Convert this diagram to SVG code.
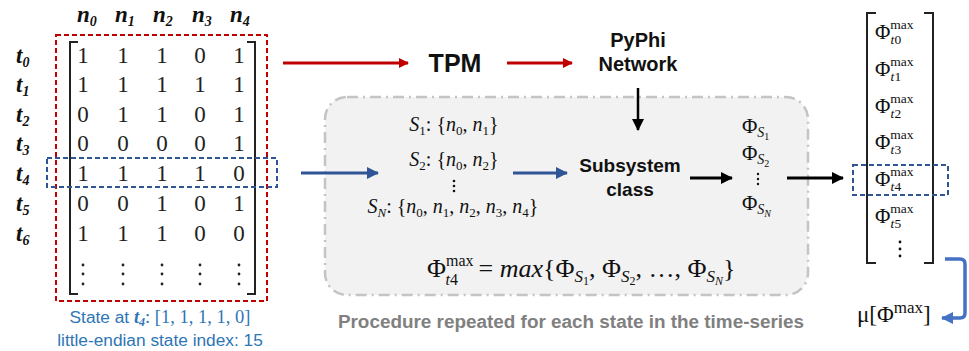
<svg xmlns="http://www.w3.org/2000/svg" width="969" height="351" viewBox="0 0 969 351">
<style>
.num{font-family:"Liberation Serif","DejaVu Serif",serif;font-size:23px;fill:#222;text-anchor:middle}
.lab{font-family:"Liberation Serif","DejaVu Serif",serif;font-size:23px;font-weight:bold;font-style:italic;fill:#111}
.sub{font-size:14px}
.math{font-family:"Liberation Serif","DejaVu Serif",serif;fill:#111}
.it{font-style:italic}
.sans{font-family:"Liberation Sans",Arial,sans-serif;font-weight:bold;fill:#111;text-anchor:middle}
.blue{font-family:"Liberation Sans",Arial,sans-serif;font-size:17.3px;fill:#2e75b6;text-anchor:middle}
.brk{fill:none;stroke:#222;stroke-width:2}
.dot{fill:#222}
.sm{font-size:13.5px}
</style>
<defs>
<marker id="ar" markerWidth="10" markerHeight="10" refX="9" refY="5" orient="auto" markerUnits="userSpaceOnUse"><path d="M0,0 L10,5 L0,10 Z" fill="#c00000"/></marker>
<marker id="ab" markerWidth="12" markerHeight="12" refX="11" refY="6" orient="auto" markerUnits="userSpaceOnUse"><path d="M0,0 L12,6 L0,12 Z" fill="#2f5597"/></marker>
<marker id="ak" markerWidth="12" markerHeight="12" refX="11" refY="6" orient="auto" markerUnits="userSpaceOnUse"><path d="M0,0 L12,6 L0,12 Z" fill="#000"/></marker>
<marker id="al" markerWidth="12" markerHeight="12" refX="11" refY="6" orient="auto" markerUnits="userSpaceOnUse"><path d="M0,0 L12,6 L0,12 Z" fill="#4472c4"/></marker>
</defs>
<rect width="969" height="351" fill="#fff"/>

<g id="procedure-box">
<rect x="325" y="97" width="483" height="198" rx="22" fill="#f2f2f2" stroke="#c4c4c4" stroke-width="2.5" stroke-dasharray="11 5 2 5"/>
<text x="571" y="328" class="sans" style="font-size:18.9px;fill:#808080">Procedure repeated for each state in the time-series</text>
</g>

<g id="matrix">
<g class="lab">
<text x="77" y="22">n<tspan class="sub" dy="4">0</tspan></text>
<text x="115" y="22">n<tspan class="sub" dy="4">1</tspan></text>
<text x="153" y="22">n<tspan class="sub" dy="4">2</tspan></text>
<text x="192" y="22">n<tspan class="sub" dy="4">3</tspan></text>
<text x="230" y="22">n<tspan class="sub" dy="4">4</tspan></text>
<text x="16" y="63">t<tspan class="sub" dy="4">0</tspan></text>
<text x="16" y="92">t<tspan class="sub" dy="4">1</tspan></text>
<text x="16" y="122">t<tspan class="sub" dy="4">2</tspan></text>
<text x="16" y="151">t<tspan class="sub" dy="4">3</tspan></text>
<text x="16" y="181">t<tspan class="sub" dy="4">4</tspan></text>
<text x="16" y="211">t<tspan class="sub" dy="4">5</tspan></text>
<text x="16" y="241">t<tspan class="sub" dy="4">6</tspan></text>
</g>
<path class="brk" d="M78,42 H70 V294 H78 M247,42 H255 V294 H247"/>
<g class="num">
<text x="83" y="63">1</text><text x="123" y="63">1</text><text x="162" y="63">1</text><text x="200" y="63">0</text><text x="239" y="63">1</text>
<text x="83" y="92">1</text><text x="123" y="92">1</text><text x="162" y="92">1</text><text x="200" y="92">1</text><text x="239" y="92">1</text>
<text x="83" y="122">0</text><text x="123" y="122">1</text><text x="162" y="122">1</text><text x="200" y="122">0</text><text x="239" y="122">1</text>
<text x="83" y="151">0</text><text x="123" y="151">0</text><text x="162" y="151">0</text><text x="200" y="151">0</text><text x="239" y="151">1</text>
<text x="83" y="181">1</text><text x="123" y="181">1</text><text x="162" y="181">1</text><text x="200" y="181">1</text><text x="239" y="181">0</text>
<text x="83" y="211">0</text><text x="123" y="211">0</text><text x="162" y="211">1</text><text x="200" y="211">0</text><text x="239" y="211">1</text>
<text x="83" y="241">1</text><text x="123" y="241">1</text><text x="162" y="241">1</text><text x="200" y="241">0</text><text x="239" y="241">0</text>
</g>
<g class="dot">
<circle cx="83" cy="265" r="1.4"/><circle cx="83" cy="274" r="1.4"/><circle cx="83" cy="284" r="1.4"/>
<circle cx="123" cy="265" r="1.4"/><circle cx="123" cy="274" r="1.4"/><circle cx="123" cy="284" r="1.4"/>
<circle cx="162" cy="265" r="1.4"/><circle cx="162" cy="274" r="1.4"/><circle cx="162" cy="284" r="1.4"/>
<circle cx="200" cy="265" r="1.4"/><circle cx="200" cy="274" r="1.4"/><circle cx="200" cy="284" r="1.4"/>
<circle cx="239" cy="265" r="1.4"/><circle cx="239" cy="274" r="1.4"/><circle cx="239" cy="284" r="1.4"/>
</g>
<rect x="56" y="35" width="211" height="266" fill="none" stroke="#c00000" stroke-width="2" stroke-dasharray="5 3"/>
<rect x="47" y="158" width="230" height="29" fill="none" stroke="#2f5597" stroke-width="2" stroke-dasharray="5 3"/>
</g>

<g id="state-caption">
<text x="160" y="323" class="blue">State at <tspan style="font-family:'Liberation Serif',serif;font-weight:bold;font-style:italic;font-size:18.5px">t<tspan style="font-size:12px" dy="3">4</tspan></tspan><tspan dy="-3" style="font-family:'Liberation Serif',serif;font-size:18.5px">: [1, 1, 1, 1, 0]</tspan></text>
<text x="160" y="346" class="blue">little-endian state index: 15</text>
</g>

<g id="tpm">
<text x="455" y="72" class="sans" style="font-size:25px">TPM</text>
</g>

<g id="pyphi-network">
<text x="638" y="47" class="sans" style="font-size:20px">PyPhi</text>
<text x="638" y="71" class="sans" style="font-size:20px">Network</text>
</g>

<g id="subsets" class="math" style="font-size:20px;text-anchor:middle">
<text x="454" y="131"><tspan class="it">S</tspan><tspan style="font-size:13px" dy="4">1</tspan><tspan dy="-4">: {</tspan><tspan class="it">n</tspan><tspan style="font-size:13px" dy="4">0</tspan><tspan dy="-4">, </tspan><tspan class="it">n</tspan><tspan style="font-size:13px" dy="4">1</tspan><tspan dy="-4">}</tspan></text>
<text x="454" y="166"><tspan class="it">S</tspan><tspan style="font-size:13px" dy="4">2</tspan><tspan dy="-4">: {</tspan><tspan class="it">n</tspan><tspan style="font-size:13px" dy="4">0</tspan><tspan dy="-4">, </tspan><tspan class="it">n</tspan><tspan style="font-size:13px" dy="4">2</tspan><tspan dy="-4">}</tspan></text>
<circle cx="454" cy="181" r="1.3" fill="#111"/><circle cx="454" cy="186" r="1.3" fill="#111"/><circle cx="454" cy="191" r="1.3" fill="#111"/>
<text x="453" y="213"><tspan class="it">S</tspan><tspan class="it" style="font-size:13px" dy="4">N</tspan><tspan dy="-4">: {</tspan><tspan class="it">n</tspan><tspan style="font-size:13px" dy="4">0</tspan><tspan dy="-4">, </tspan><tspan class="it">n</tspan><tspan style="font-size:13px" dy="4">1</tspan><tspan dy="-4">, </tspan><tspan class="it">n</tspan><tspan style="font-size:13px" dy="4">2</tspan><tspan dy="-4">, </tspan><tspan class="it">n</tspan><tspan style="font-size:13px" dy="4">3</tspan><tspan dy="-4">, </tspan><tspan class="it">n</tspan><tspan style="font-size:13px" dy="4">4</tspan><tspan dy="-4">}</tspan></text>
</g>

<g id="subsystem-class">
<text x="630" y="172" class="sans" style="font-size:19px">Subsystem</text>
<text x="630" y="196" class="sans" style="font-size:19px">class</text>
</g>

<g id="phi-values" class="math" style="font-size:21px">
<text x="742" y="133">Φ<tspan class="it" style="font-size:14px" dy="4">S</tspan><tspan style="font-size:10px" dy="3">1</tspan></text>
<text x="742" y="160">Φ<tspan class="it" style="font-size:14px" dy="4">S</tspan><tspan style="font-size:10px" dy="3">2</tspan></text>
<circle cx="758" cy="174" r="1.2" fill="#111"/><circle cx="758" cy="179" r="1.2" fill="#111"/><circle cx="758" cy="184" r="1.2" fill="#111"/>
<text x="742" y="210">Φ<tspan class="it" style="font-size:14px" dy="4">S</tspan><tspan class="it" style="font-size:10px" dy="3">N</tspan></text>
</g>

<g id="max-formula" class="math" style="font-size:26px">
<text x="427" y="277">Φ<tspan style="font-size:16px" dy="-11">max</tspan><tspan class="it" style="font-size:16px" dx="-28" dy="19">t</tspan><tspan style="font-size:16px">4</tspan><tspan dx="14" dy="-8"> = </tspan><tspan class="it">max</tspan>{Φ<tspan class="it" style="font-size:17px" dy="5">S</tspan><tspan style="font-size:12px" dy="3">1</tspan><tspan dy="-8">, Φ</tspan><tspan class="it" style="font-size:17px" dy="5">S</tspan><tspan style="font-size:12px" dy="3">2</tspan><tspan dy="-8">, …, Φ</tspan><tspan class="it" style="font-size:17px" dy="5">S</tspan><tspan class="it" style="font-size:12px" dy="3">N</tspan><tspan dy="-8">}</tspan></text>
</g>

<g id="phi-max-vector" class="math" style="font-size:21px">
<path class="brk" d="M876,13 H867 V263 H876 M924,13 H933 V263 H924"/>
<text x="875" y="39">Φ<tspan class="sm" dy="-10">max</tspan><tspan class="it sm" dx="-23" dy="15">t</tspan><tspan class="sm">0</tspan></text>
<text x="875" y="76">Φ<tspan class="sm" dy="-10">max</tspan><tspan class="it sm" dx="-23" dy="15">t</tspan><tspan class="sm">1</tspan></text>
<text x="875" y="113">Φ<tspan class="sm" dy="-10">max</tspan><tspan class="it sm" dx="-23" dy="15">t</tspan><tspan class="sm">2</tspan></text>
<text x="875" y="149">Φ<tspan class="sm" dy="-10">max</tspan><tspan class="it sm" dx="-23" dy="15">t</tspan><tspan class="sm">3</tspan></text>
<text x="875" y="186">Φ<tspan class="sm" dy="-10">max</tspan><tspan class="it sm" dx="-23" dy="15">t</tspan><tspan class="sm">4</tspan></text>
<text x="875" y="223">Φ<tspan class="sm" dy="-10">max</tspan><tspan class="it sm" dx="-23" dy="15">t</tspan><tspan class="sm">5</tspan></text>
<circle cx="900" cy="242" r="1.4" fill="#111"/><circle cx="900" cy="249" r="1.4" fill="#111"/><circle cx="900" cy="256" r="1.4" fill="#111"/>
<rect x="853" y="165" width="95" height="30" fill="none" stroke="#2f5597" stroke-width="2" stroke-dasharray="5 3"/>
</g>

<g id="mean-phi">
<text x="857" y="322" class="math" style="font-size:23px">μ[Φ<tspan style="font-size:17px" dy="-9">max</tspan><tspan dy="9">]</tspan></text>
</g>

<g id="connectors" fill="none" stroke-width="3">
<line x1="283" y1="63" x2="408" y2="63" stroke="#c00000" marker-end="url(#ar)"/>
<line x1="507" y1="63" x2="572" y2="63" stroke="#c00000" marker-end="url(#ar)"/>
<line x1="638" y1="88" x2="638" y2="130" stroke="#000" stroke-width="2.5" marker-end="url(#ak)"/>
<line x1="301" y1="173" x2="378" y2="173" stroke="#2f5597" marker-end="url(#ab)"/>
<line x1="513" y1="173" x2="567" y2="173" stroke="#2f5597" marker-end="url(#ab)"/>
<line x1="690" y1="178" x2="732" y2="178" stroke="#000" marker-end="url(#ak)"/>
<line x1="787" y1="178" x2="843" y2="178" stroke="#000" marker-end="url(#ak)"/>
<path d="M945,259 H960 Q965,259 965,264 V313 Q965,318 960,318 H942" stroke="#4472c4" stroke-width="3.5" marker-end="url(#al)"/>
</g>
</svg>
